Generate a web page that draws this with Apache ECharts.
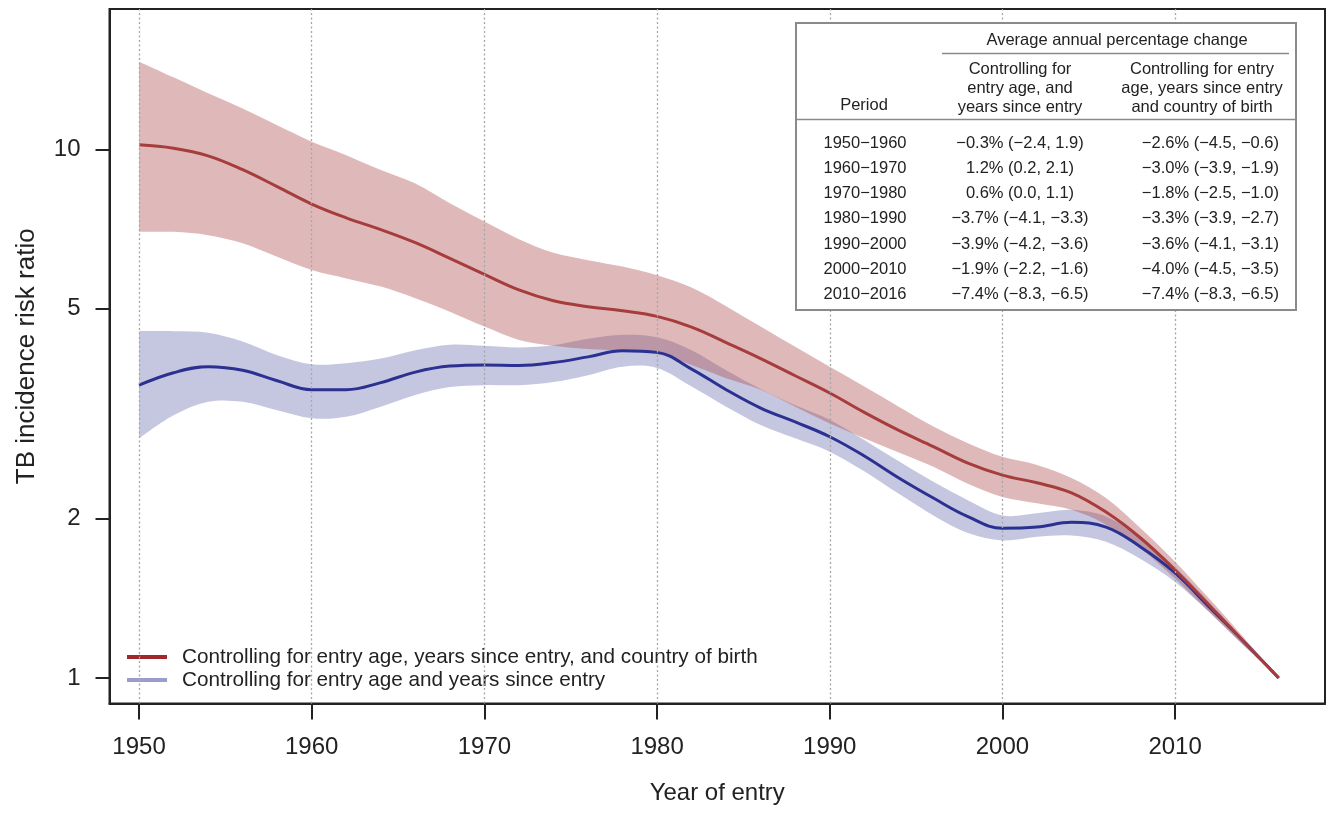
<!DOCTYPE html>
<html>
<head>
<meta charset="utf-8">
<title>TB incidence risk ratio by year of entry</title>
<script src="https://cdn.jsdelivr.net/npm/echarts@6/dist/echarts.min.js"></script>
<style>
  html, body { margin: 0; padding: 0; background: #fff; }
  #chart { width: 1334px; height: 814px; }
</style>
</head>
<body>
<div id="chart"></div>
<script>
// ---- data -------------------------------------------------------------
const years = [1950, 1952, 1954, 1956, 1958, 1960, 1962, 1964, 1966, 1968,
               1970, 1972, 1974, 1976, 1978, 1980, 1982, 1984, 1986, 1988,
               1990, 1992, 1994, 1996, 1998, 2000, 2002, 2004, 2006, 2008,
               2010, 2012, 2014, 2016];

// Controlling for entry age, years since entry, and country of birth
const redMid  = [10.20, 10.05, 9.72, 9.15, 8.50, 7.88, 7.42, 7.05, 6.66, 6.22,
                 5.80, 5.42, 5.17, 5.04, 4.95, 4.83, 4.61, 4.31, 4.02, 3.73,
                 3.46, 3.18, 2.94, 2.74, 2.55, 2.42, 2.34, 2.24, 2.06, 1.84,
                 1.60, 1.37, 1.17, 1.00];
const redHigh = [14.65, 13.68, 12.76, 11.94, 11.10, 10.34, 9.75, 9.14, 8.62, 7.91,
                 7.30, 6.76, 6.37, 6.17, 6.00, 5.78, 5.48, 5.05, 4.62, 4.23,
                 3.88, 3.56, 3.26, 2.99, 2.78, 2.62, 2.53, 2.39, 2.19, 1.92,
                 1.66, 1.41, 1.19, 1.00];
const redLow  = [6.98, 6.98, 6.88, 6.64, 6.26, 5.91, 5.70, 5.50, 5.23, 4.93,
                 4.62, 4.36, 4.25, 4.19, 4.16, 4.10, 3.91, 3.69, 3.51, 3.26,
                 3.03, 2.84, 2.67, 2.51, 2.33, 2.20, 2.14, 2.08, 1.95, 1.76,
                 1.54, 1.33, 1.15, 1.00];

// Controlling for entry age and years since entry
const blueMid  = [3.58, 3.78, 3.88, 3.82, 3.65, 3.51, 3.51, 3.62, 3.79, 3.89,
                  3.91, 3.90, 3.95, 4.05, 4.16, 4.13, 3.84, 3.51, 3.24, 3.05,
                  2.86, 2.63, 2.39, 2.19, 2.02, 1.92, 1.93, 1.97, 1.93, 1.77,
                  1.58, 1.36, 1.17, 1.00];
const blueHigh = [4.53, 4.53, 4.50, 4.33, 4.08, 3.92, 3.94, 4.02, 4.17, 4.27,
                  4.25, 4.22, 4.26, 4.38, 4.46, 4.41, 4.17, 3.82, 3.52, 3.28,
                  3.08, 2.82, 2.57, 2.35, 2.17, 2.03, 2.05, 2.08, 2.02, 1.84,
                  1.62, 1.39, 1.18, 1.00];
const blueLow  = [2.84, 3.14, 3.33, 3.33, 3.21, 3.10, 3.12, 3.26, 3.43, 3.55,
                  3.58, 3.58, 3.63, 3.74, 3.88, 3.86, 3.56, 3.26, 3.01, 2.84,
                  2.68, 2.46, 2.23, 2.03, 1.88, 1.82, 1.85, 1.86, 1.81, 1.68,
                  1.52, 1.33, 1.15, 1.00];

const xTicks = [1950, 1960, 1970, 1980, 1990, 2000, 2010];
const yTicks = [1, 2, 5, 10];

const redName  = 'Controlling for entry age, years since entry, and country of birth';
const blueName = 'Controlling for entry age and years since entry';

// Average annual percentage change table
const periods  = ['1950\u22121960', '1960\u22121970', '1970\u22121980', '1980\u22121990',
                  '1990\u22122000', '2000\u22122010', '2010\u22122016'];
const apcAge   = [[-0.3, -2.4, 1.9], [1.2, 0.2, 2.1], [0.6, 0.0, 1.1], [-3.7, -4.1, -3.3],
                  [-3.9, -4.2, -3.6], [-1.9, -2.2, -1.6], [-7.4, -8.3, -6.5]];
const apcBirth = [[-2.6, -4.5, -0.6], [-3.0, -3.9, -1.9], [-1.8, -2.5, -1.0], [-3.3, -3.9, -2.7],
                  [-3.6, -4.1, -3.1], [-4.0, -4.5, -3.5], [-7.4, -8.3, -6.5]];

// ---- helpers ----------------------------------------------------------
const FONT = '"Liberation Sans", Arial, Helvetica, sans-serif';
const lg = v => Math.log10(v);

function fmt(n) {
  return (n < 0 ? '\u2212' : '') + Math.abs(n).toFixed(1);
}
function apcText(a) {
  return fmt(a[0]) + '% (' + fmt(a[1]) + ', ' + fmt(a[2]) + ')';
}

// Catmull-Rom spline through pixel points, written as cubic Bezier segments
function curve(p) {
  let s = '';
  const k = 1 / 6;
  for (let i = 0; i < p.length - 1; i++) {
    const p0 = p[Math.max(i - 1, 0)], p1 = p[i], p2 = p[i + 1], p3 = p[Math.min(i + 2, p.length - 1)];
    s += ' C' + (p1[0] + (p2[0] - p0[0]) * k) + ',' + (p1[1] + (p2[1] - p0[1]) * k) +
         ' ' + (p2[0] - (p3[0] - p1[0]) * k) + ',' + (p2[1] - (p3[1] - p1[1]) * k) +
         ' ' + p2[0] + ',' + p2[1];
  }
  return s;
}

// Confidence band drawn as one filled path between the upper and lower limits
function band(lo, hi, fill) {
  return {
    type: 'custom',
    coordinateSystem: 'cartesian2d',
    silent: true,
    z: 2,
    data: years.map((yr, i) => [yr, lg(lo[i]), lg(hi[i])]),
    renderItem: function (params, api) {
      if (params.dataIndex !== 0) return null;
      const up = years.map((yr, i) => api.coord([yr, lg(hi[i])]));
      const dn = years.map((yr, i) => api.coord([yr, lg(lo[i])])).reverse();
      const d = 'M' + up[0][0] + ',' + up[0][1] + curve(up) +
                ' L' + dn[0][0] + ',' + dn[0][1] + curve(dn) + ' Z';
      return { type: 'path', shape: { pathData: d }, style: { fill: fill, stroke: null } };
    }
  };
}

function centerLine(name, mid, color) {
  return {
    name: name,
    type: 'line',
    z: 3,
    smooth: 0.4,
    showSymbol: false,
    silent: true,
    data: years.map((yr, i) => [yr, lg(mid[i])]),
    lineStyle: { color: color, width: 3 },
    itemStyle: { color: color }
  };
}

// ---- table graphic ----------------------------------------------------
const tbl = { x: 796, y: 23, w: 500, h: 287 };
const tFont = 16.5;
const tColor = '#222';
function tText(text, x, y, align) {
  return {
    type: 'text', x: x, y: y, z: 11, silent: true,
    style: { text: text, fontSize: tFont, fontFamily: FONT, fill: tColor,
             align: align || 'center', verticalAlign: 'middle' }
  };
}
const tableEls = [
  { type: 'rect', z: 10, silent: true,
    shape: { x: tbl.x, y: tbl.y, width: tbl.w, height: tbl.h },
    style: { fill: '#fff', stroke: '#8a8a8a', lineWidth: 2 } },
  { type: 'line', z: 11, silent: true,
    shape: { x1: 942, y1: 53.5, x2: 1289, y2: 53.5 },
    style: { stroke: '#8a8a8a', lineWidth: 1.5 } },
  { type: 'line', z: 11, silent: true,
    shape: { x1: tbl.x, y1: 119.5, x2: tbl.x + tbl.w, y2: 119.5 },
    style: { stroke: '#8a8a8a', lineWidth: 1.5 } },
  tText('Average annual percentage change', 1117, 40),
  tText('Period', 864, 105),
  tText('Controlling for', 1020, 69.5),
  tText('entry age, and', 1020, 88.5),
  tText('years since entry', 1020, 107.5),
  tText('Controlling for entry', 1202, 69.5),
  tText('age, years since entry', 1202, 88.5),
  tText('and country of birth', 1202, 107.5)
];
periods.forEach((p, i) => {
  const y = 143.5 + i * 25.15;
  tableEls.push(tText(p, 865, y));
  tableEls.push(tText(apcText(apcAge[i]), 1020, y));
  tableEls.push(tText(apcText(apcBirth[i]), 1279, y, 'right'));
});

// ---- chart ------------------------------------------------------------
const chart = echarts.init(document.getElementById('chart'), null, { renderer: 'canvas' });

chart.setOption({
  animation: false,
  backgroundColor: '#fff',
  textStyle: { fontFamily: FONT },
  grid: {
    left: 109.5, right: 9, top: 9, bottom: 110.5,
    show: true, borderColor: '#222', borderWidth: 2, backgroundColor: 'transparent'
  },
  legend: {
    left: 127, top: 645.5,
    orient: 'vertical',
    padding: 0,
    itemGap: 0,
    itemWidth: 40,
    itemHeight: 4,
    icon: 'rect',
    selectedMode: false,
    textStyle: { fontSize: 20.7, lineHeight: 23, color: '#222', fontFamily: FONT, padding: [0, 0, 0, 10] },
    data: [
      { name: redName, itemStyle: { color: '#a0282a' } },
      { name: blueName, itemStyle: { color: '#9b9dcb' } }
    ]
  },
  xAxis: {
    type: 'value',
    min: 1948.29,
    max: 2018.68,
    name: 'Year of entry',
    nameLocation: 'middle',
    nameGap: 77.5,
    nameTextStyle: { fontSize: 24, color: '#222', fontFamily: FONT },
    axisLine: { show: true, onZero: false, lineStyle: { color: '#222', width: 2 } },
    axisTick: { show: true, length: 16, customValues: xTicks, lineStyle: { color: '#222', width: 2 } },
    axisLabel: { customValues: xTicks, margin: 32, fontSize: 24, color: '#222', fontFamily: FONT,
                 formatter: v => String(Math.round(v)) },
    splitLine: { show: false }
  },
  yAxis: {
    type: 'value',
    min: -0.0482,
    max: 1.2654,
    name: 'TB incidence risk ratio',
    nameLocation: 'middle',
    nameGap: 70,
    nameRotate: 90,
    nameTextStyle: { fontSize: 26, color: '#222', fontFamily: FONT },
    axisLine: { show: true, onZero: false, lineStyle: { color: '#222', width: 2 } },
    axisTick: { show: true, length: 14, customValues: yTicks.map(lg), lineStyle: { color: '#222', width: 2 } },
    axisLabel: { customValues: yTicks.map(lg), margin: 29, fontSize: 24, color: '#222', fontFamily: FONT,
                 formatter: v => String(Math.round(Math.pow(10, v))) },
    splitLine: { show: false }
  },
  series: [
    {
      name: 'grid',
      type: 'line',
      data: [],
      z: 1,
      silent: true,
      markLine: {
        silent: true,
        symbol: ['none', 'none'],
        label: { show: false },
        lineStyle: { color: '#a6a6a6', width: 1.3, type: [2, 2.5] },
        data: xTicks.map(v => ({ xAxis: v }))
      }
    },
    band(blueLow, blueHigh, 'rgba(80, 85, 160, 0.33)'),
    band(redLow, redHigh, 'rgba(170, 70, 70, 0.38)'),
    centerLine(blueName, blueMid, '#2b3190'),
    centerLine(redName, redMid, '#a63c3c')
  ],
  graphic: { elements: tableEls }
});
</script>
</body>
</html>
